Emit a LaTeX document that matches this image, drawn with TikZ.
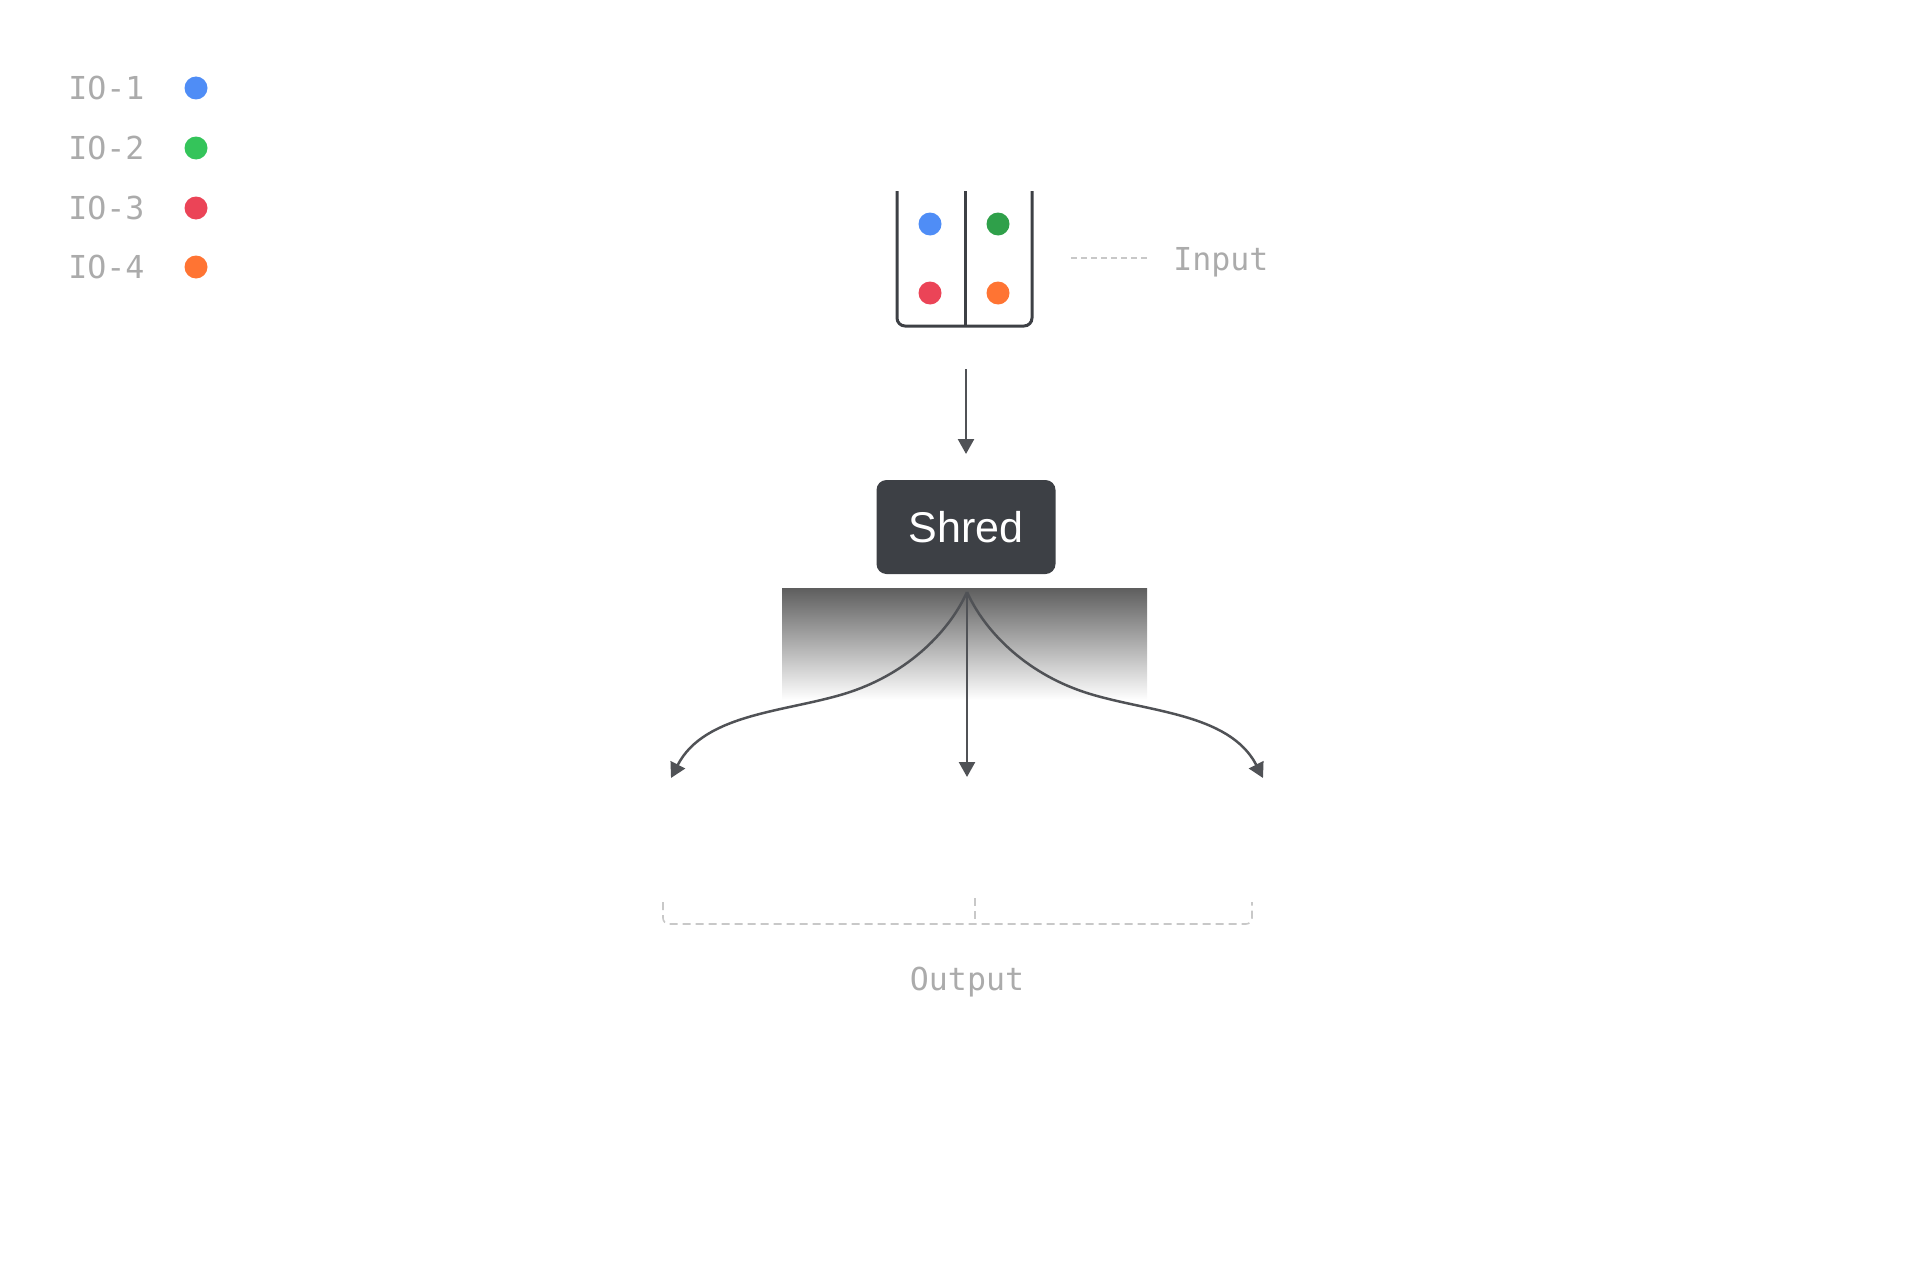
\documentclass[tikz,border=0pt]{standalone}
\usepackage{fontspec}
\setmainfont{Liberation Sans}
\setsansfont{Liberation Sans}
\setmonofont{DejaVu Sans Mono}
\usetikzlibrary{arrows.meta, positioning, calc}
\definecolor{cblue}{HTML}{4F8DF6}
\definecolor{cgreen}{HTML}{34C45A}
\definecolor{cdkgreen}{HTML}{2FA04A}
\definecolor{cred}{HTML}{EB4457}
\definecolor{corange}{HTML}{FF7433}
\definecolor{cgrey}{HTML}{ABABAB}
\definecolor{cline}{HTML}{505256}
\definecolor{cdash}{HTML}{C8C8C8}
\definecolor{cdark}{HTML}{3D4045}
\definecolor{cshade}{HTML}{5E5E5E}
\tikzset{
  every picture/.style={line width=1.25pt},
  tag/.style={font=\ttfamily\fontsize{15.8}{18}\selectfont, text=cgrey, inner sep=0pt},
  dot/.style={circle, fill=#1, minimum size=11.5pt, inner sep=0pt},
  arrow/.style={-{Triangle[length=7.5pt, width=8pt]}, draw=cline, line width=1.25pt},
  guide/.style={draw=cdash, line width=0.8pt, dash pattern=on 4pt off 2.5pt},
}

\begin{document}
\begin{tikzpicture}[x=0.5pt, y=-0.5pt,
  shredbox/.style={fill=cdark, rounded corners=5pt, minimum width=89.5pt, minimum height=47pt, text=white, font=\sffamily\fontsize{21.5}{24}\selectfont},
  bin/.style={draw=cdark, line width=1.5pt}]
  \useasboundingbox (0,0) rectangle (1920,1268);
  \foreach \c/\y [count=\i] in {cblue/88, cgreen/148, cred/208, corange/267} {
    \node[tag, anchor=west] (lg\i) at (67,\y) {IO-\i};
    \node[dot=\c] (ld\i) at (196,\y) {};
  }
  \draw[bin, rounded corners=4pt] (897,191) -- (897,326) -- (1032,326) -- (1032,191);
  \draw[bin] (965,191) -- (965,326);
  \node[dot=cblue] (in1) at (930,224) {};
  \node[dot=cdkgreen] (in2) at (998,224) {};
  \node[dot=cred] (in3) at (930,293) {};
  \node[dot=corange] (in4) at (998,293) {};
  \coordinate (inmarkA) at (1071,258);
  \coordinate (inmarkB) at (1147,258);
  \draw[guide, dash pattern=on 3pt off 2pt] (inmarkA) -- (inmarkB);
  \node[tag, anchor=base west] (input) at (1172,270) {Input};
  \coordinate (feed) at (966,369);
  \coordinate (feedend) at (966,454);
  \node[shredbox] (shred) at (966,527) {Shred};
  \draw[arrow] (feed) -- (feedend);
  \shade[top color=cshade, bottom color=white] (782,588) rectangle (1147,700);
  \coordinate (split) at (967,592);
  \coordinate (outL) at (671,778);
  \coordinate (outM) at (967,777);
  \coordinate (outR) at (1263,778);
  \draw[arrow] (split) .. controls (950,630) and (910,672) .. (850,692) .. controls (790,712) and (705,712) .. (outL);
  \draw[arrow] (split) -- (outM);
  \draw[arrow] (split) .. controls (984,630) and (1024,672) .. (1084,692) .. controls (1144,712) and (1229,712) .. (outR);
  \draw[guide, rounded corners=3pt] (663,902) -- (663,924) -- (1252,924) -- (1252,902);
  \coordinate (tickA) at (975,898);
  \coordinate (tickB) at (975,924);
  \draw[guide] (tickA) -- (tickB);
  \node[tag, anchor=base] (output) at (967,990) {Output};
\end{tikzpicture}
\end{document}
